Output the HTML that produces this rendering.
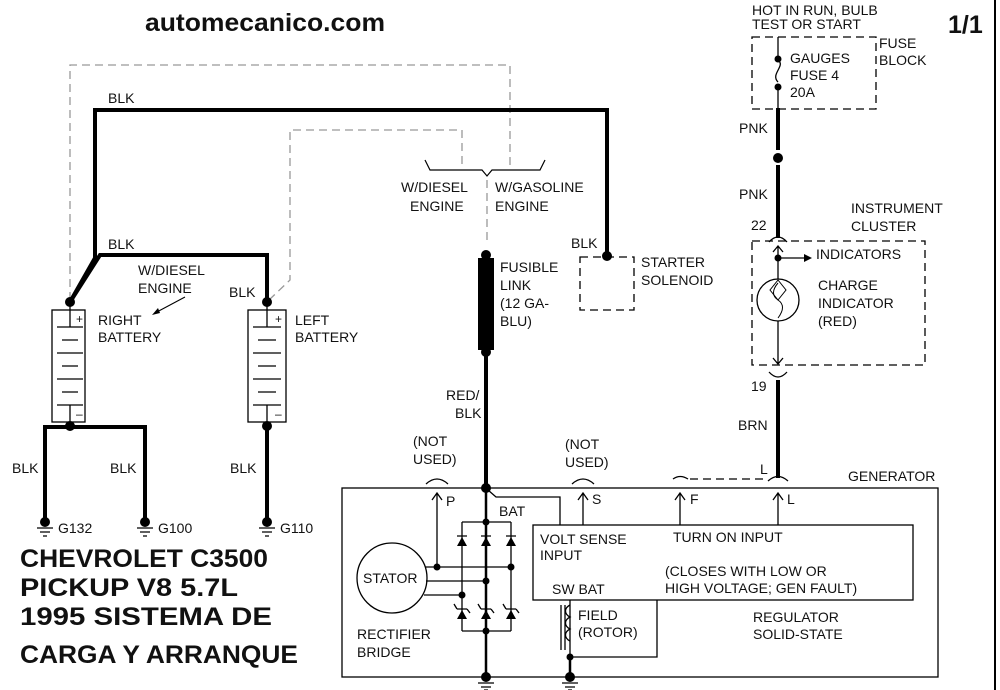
<!DOCTYPE html>
<html><head><style>
body{margin:0;background:#fff}
svg{display:block}
text{font-family:"Liberation Sans",Arial,sans-serif;font-size:14px;fill:#111}
.b{font-weight:bold}
</style></head><body>
<svg width="1000" height="690" viewBox="0 0 1000 690" xmlns="http://www.w3.org/2000/svg">
<rect width="1000" height="690" fill="#fff"/>
<line x1="995" y1="0" x2="995" y2="690" stroke="#000" stroke-width="2"/>
<text x="145" y="31" class="b" style="font-size:25px" textLength="240" lengthAdjust="spacingAndGlyphs">automecanico.com</text>
<text x="948" y="33" class="b" style="font-size:25px">1/1</text>

<!-- gray dashed -->
<g stroke="#999" stroke-width="1.3" fill="none" stroke-dasharray="8,5">
<polyline points="70,300 70,65 510,65 510,165"/>
<polyline points="269,300 290,280 290,130 462,130 462,165"/>
<line x1="487" y1="180" x2="487" y2="245"/>
</g>
<path d="M425,160 L430,170 L482,170 L487,176 L492,170 L540,170 L545,160" stroke="#000" fill="none" stroke-width="1.2"/>
<text x="401" y="192">W/DIESEL</text><text x="410" y="211">ENGINE</text>
<text x="495" y="192">W/GASOLINE</text><text x="495" y="211">ENGINE</text>

<!-- black thick wires -->
<g stroke="#000" stroke-width="4" fill="none">
<polyline points="70,302 95,258 95,110 607,110 607,255"/>
<polyline points="70,302 100,255 267,255 267,302"/>
<line x1="70" y1="425" x2="70" y2="428"/>
<polyline points="45,520 45,427 145,427 145,520"/>
<line x1="267" y1="425" x2="267" y2="520"/>
<line x1="486" y1="352" x2="486" y2="488"/>
<line x1="778" y1="108" x2="778" y2="150"/>
<line x1="778" y1="165" x2="778" y2="238"/>
<line x1="778" y1="380" x2="778" y2="478"/>
</g>
<text x="108" y="103">BLK</text>
<text x="108" y="249">BLK</text>
<text x="138" y="275">W/DIESEL</text><text x="138" y="293">ENGINE</text>
<line x1="185" y1="297" x2="155" y2="313" stroke="#000"/><path d="M152,315 L158,308 L160,313Z" fill="#000"/>
<text x="229" y="297">BLK</text>
<text x="98" y="325">RIGHT</text><text x="98" y="342">BATTERY</text>
<text x="295" y="325">LEFT</text><text x="295" y="342">BATTERY</text>
<text x="12" y="473">BLK</text><text x="110" y="473">BLK</text><text x="230" y="473">BLK</text>

<!-- batteries -->
<g stroke="#000" stroke-width="1.3" fill="none">
<rect x="52" y="310" width="33" height="112"/>
<rect x="248" y="310" width="38" height="112"/>
<path d="M70,302V327M57,327H83M62,340H78M57,353H83M62,366H78M57,379H83M62,392H78M57,405H83M70,405V425"/>
<path d="M267,302V327M253,327H281M258,340H276M253,353H281M258,366H276M253,379H281M258,392H276M253,405H281M267,405V425"/>
</g>
<text x="76" y="323" style="font-size:12px">+</text><text x="275" y="323" style="font-size:12px">+</text>
<text x="76" y="418" style="font-size:12px">–</text><text x="275" y="418" style="font-size:12px">–</text>
<g fill="#000"><circle cx="70" cy="302" r="5"/><circle cx="267" cy="302" r="5"/><circle cx="70" cy="426" r="5"/><circle cx="267" cy="426" r="5"/><circle cx="45" cy="522" r="5"/><circle cx="145" cy="522" r="5"/><circle cx="267" cy="522" r="5"/></g>
<g stroke="#000" stroke-width="1.3">
<path d="M37,528H53M40,532H50M43,536H47"/><path d="M137,528H153M140,532H150M143,536H147"/><path d="M259,528H275M262,532H272M265,536H269"/>
</g>
<text x="58" y="533">G132</text><text x="158" y="533">G100</text><text x="280" y="533">G110</text>

<text x="20" y="567" class="b" style="font-size:25px" textLength="248" lengthAdjust="spacingAndGlyphs">CHEVROLET C3500</text>
<text x="20" y="596" class="b" style="font-size:25px" textLength="218" lengthAdjust="spacingAndGlyphs">PICKUP V8 5.7L</text>
<text x="20" y="625" class="b" style="font-size:25px" textLength="252" lengthAdjust="spacingAndGlyphs">1995 SISTEMA DE</text>
<text x="20" y="663" class="b" style="font-size:25px" textLength="278" lengthAdjust="spacingAndGlyphs">CARGA Y ARRANQUE</text>

<!-- fusible link -->
<rect x="478" y="258" width="16" height="92" fill="#000"/>
<circle cx="486" cy="255" r="5"/><circle cx="486" cy="352" r="5"/>
<text x="500" y="272">FUSIBLE</text><text x="500" y="290">LINK</text><text x="500" y="308">(12 GA-</text><text x="500" y="326">BLU)</text>
<text x="446" y="400">RED/</text><text x="455" y="418">BLK</text>

<!-- starter -->
<rect x="580" y="257" width="54" height="53" fill="none" stroke="#000" stroke-width="1.3" stroke-dasharray="8,5"/>
<circle cx="607" cy="256" r="5"/>
<text x="571" y="248">BLK</text>
<text x="641" y="267">STARTER</text><text x="641" y="285">SOLENOID</text>

<!-- right column -->
<text x="752" y="15">HOT IN RUN, BULB</text><text x="752" y="29">TEST OR START</text>
<rect x="752" y="37" width="124" height="72" fill="none" stroke="#000" stroke-width="1.3" stroke-dasharray="8,5"/>
<line x1="778" y1="37" x2="778" y2="57" stroke="#000" stroke-width="1.3"/>
<path d="M778,60 C786,66 770,74 778,82" stroke="#000" fill="none" stroke-width="1.3"/>
<line x1="778" y1="88" x2="778" y2="108" stroke="#000" stroke-width="1.3"/>
<circle cx="778" cy="59" r="3.5"/><circle cx="778" cy="87" r="3.5"/>
<text x="790" y="63">GAUGES</text><text x="790" y="80">FUSE 4</text><text x="790" y="97">20A</text>
<text x="879" y="48">FUSE</text><text x="879" y="65">BLOCK</text>
<text x="739" y="133">PNK</text><text x="739" y="199">PNK</text>
<circle cx="778" cy="158" r="5"/>
<text x="751" y="230">22</text>
<text x="851" y="213">INSTRUMENT</text><text x="851" y="231">CLUSTER</text>
<g stroke="#000" stroke-width="1.3" fill="none">
<path d="M769,242 Q778,232 787,242"/>
<path d="M769,372 Q778,382 787,372"/>
<path d="M773,252 L778,246 L783,252 M778,246V279 M778,258H805 M778,321V363 M773,358 L778,364 L783,358"/>
<circle cx="778" cy="300" r="21"/>
<path d="M778,280 L770,290 L778,300 L786,290Z" stroke-width="1"/>
<path d="M778,283 C772,290 772,296 778,300 C784,304 784,310 778,318" stroke-width="1"/>
</g>
<rect x="752" y="241" width="173" height="124" fill="none" stroke="#000" stroke-width="1.3" stroke-dasharray="8,5"/>
<circle cx="778" cy="258" r="3.5"/><path d="M804,254 L812,258 L804,262Z" fill="#000"/>
<text x="816" y="259">INDICATORS</text>
<text x="818" y="290">CHARGE</text><text x="818" y="308">INDICATOR</text><text x="818" y="326">(RED)</text>
<text x="751" y="391">19</text><text x="738" y="430">BRN</text>
<text x="760" y="474">L</text>
<text x="848" y="481">GENERATOR</text>
<path d="M673,479 Q680,474 688,479" stroke="#000" fill="none" stroke-width="1.3"/>
<line x1="690" y1="479" x2="768" y2="479" stroke="#000" stroke-width="1.3" stroke-dasharray="8,5"/>
<path d="M768,481 Q778,472 788,481" stroke="#000" fill="none" stroke-width="1.3"/>
<path d="M426,484 Q437,474 448,484" stroke="#000" fill="none" stroke-width="1.3"/>
<path d="M572,484 Q583,474 594,484" stroke="#000" fill="none" stroke-width="1.3"/>
<text x="413" y="446">(NOT</text><text x="413" y="464">USED)</text>
<text x="565" y="449">(NOT</text><text x="565" y="467">USED)</text>

<!-- generator -->
<g stroke="#000" stroke-width="1.3" fill="none">
<rect x="342" y="488" width="596" height="189"/>
<rect x="533" y="525" width="380" height="75"/>
<polyline points="570,600 570,657 657,657 657,600"/>
<path d="M437,567V493 M432,500 L437,493 L442,500"/>
<path d="M583,525V493 M578,500 L583,493 L588,500"/>
<path d="M680,525V493 M675,500 L680,493 L685,500"/>
<path d="M778,525V493 M773,500 L778,493 L783,500"/>
<polyline points="488,490 496,497 560,497 560,525"/>
<circle cx="392" cy="578" r="35"/>
<path d="M425,567H511 M426,581H486 M424,595H462"/>
<path d="M462,522H511 M462,631H511 M462,522V631 M511,522V631"/>
<path d="M457,536H467 M481,536H491 M506,536H516"/>
<path d="M457,609H467 M481,609H491 M506,609H516"/>
<path d="M454,604l3,5 M478,604l3,5 M503,604l3,5 M467,609l3,4 M491,609l3,4 M516,609l3,4"/>
<path d="M561,605V650 M565,605V650"/>
<path d="M570,605 c-6,3 -6,9 0,12 c-6,3 -6,9 0,12 c-6,3 -6,9 0,12"/>
</g>
<line x1="486" y1="488" x2="486" y2="677" stroke="#000" stroke-width="2.5"/>
<line x1="570" y1="657" x2="570" y2="677" stroke="#000" stroke-width="2.5"/>
<g fill="#000">
<path d="M457,546H467L462,537Z M481,546H491L486,537Z M506,546H516L511,537Z"/>
<path d="M457,619H467L462,610Z M481,619H491L486,610Z M506,619H516L511,610Z"/>
<circle cx="486" cy="488" r="5"/><circle cx="486" cy="522" r="3.5"/><circle cx="437" cy="567" r="3.5"/><circle cx="511" cy="567" r="3.5"/><circle cx="486" cy="581" r="3.5"/><circle cx="462" cy="595" r="3.5"/><circle cx="486" cy="631" r="3.5"/><circle cx="570" cy="657" r="3.5"/>
<circle cx="486" cy="677" r="5"/><circle cx="570" cy="677" r="5"/>
</g>
<g stroke="#000" stroke-width="1.3"><path d="M478,683H494M481,687H491M484,690H488"/><path d="M562,683H578M565,687H575M568,690H572"/></g>
<text x="363" y="583">STATOR</text>
<text x="357" y="639">RECTIFIER</text><text x="357" y="657">BRIDGE</text>
<text x="446" y="506">P</text><text x="499" y="516">BAT</text>
<text x="592" y="504">S</text><text x="690" y="504">F</text><text x="787" y="504">L</text>
<text x="540" y="544">VOLT SENSE</text><text x="540" y="560">INPUT</text>
<text x="673" y="542">TURN ON INPUT</text>
<text x="665" y="576">(CLOSES WITH LOW OR</text><text x="665" y="593">HIGH VOLTAGE; GEN FAULT)</text>
<text x="552" y="594">SW BAT</text>
<text x="578" y="620">FIELD</text><text x="578" y="637">(ROTOR)</text>
<text x="753" y="622">REGULATOR</text><text x="753" y="639">SOLID-STATE</text>
</svg>
</body></html>
